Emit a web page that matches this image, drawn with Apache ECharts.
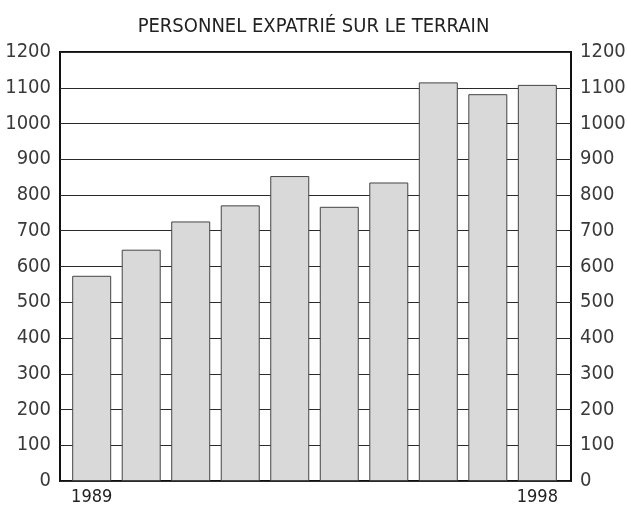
<!DOCTYPE html>
<html>
<head>
<meta charset="utf-8">
<script src="https://cdn.jsdelivr.net/npm/echarts@6/dist/echarts.min.js"></script>
<style>
  html, body { margin: 0; padding: 0; background: #fff; }
  #chart { width: 627px; height: 512px; }
</style>
</head>
<body>
<div id="chart"></div>
<script>
// données
const years = [1989, 1990, 1991, 1992, 1993, 1994, 1995, 1996, 1997, 1998]
const staff = [574, 647, 726, 771, 853, 767, 835, 1115, 1082, 1108]
const yearLabels = [1989, 1998]
const titleText = 'PERSONNEL EXPATRIÉ SUR LE TERRAIN'

const font = "'Liberation Sans Narrow', 'DejaVu Sans Condensed', 'Liberation Sans', sans-serif"
const ink = '#222'

const myChart = echarts.init(document.getElementById('chart'))

const valueAxis = (pos) => ({
  type: 'value',
  position: pos,
  min: 0,
  max: 1200,
  interval: 100,
  axisLine: { show: false },
  axisTick: { show: false },
  splitLine: pos === 'left' ? { show: true, lineStyle: { color: '#2a2a2a', width: 1 } } : { show: false },
  axisLabel: {
    color: '#3a3a3a', fontFamily: font, fontSize: 20, margin: 9,
    formatter: (v) => String(v)
  }
})

myChart.setOption({
  backgroundColor: '#fff',
  animation: false,
  title: {
    text: titleText,
    left: 'center',
    top: 12,
    textStyle: { fontFamily: font, fontSize: 20, fontWeight: 'normal', color: ink }
  },
  grid: {
    left: 60, right: 56, top: 52, bottom: 31,
    outerBoundsMode: 'none',
    containLabel: false,
    show: true,
    borderColor: '#111',
    borderWidth: 2,
    backgroundColor: 'transparent'
  },
  xAxis: {
    type: 'value',
    min: 1988.36,
    max: 1998.68,
    axisLine: { show: false },
    axisTick: { show: false },
    splitLine: { show: false },
    axisLabel: {
      customValues: yearLabels,
      color: ink, fontFamily: font, fontSize: 18, margin: 7,
      formatter: (v) => String(v)
    }
  },
  yAxis: [valueAxis('left'), valueAxis('right')],
  series: [{
    type: 'bar',
    barWidth: 39,
    data: years.map((y, i) => [y, staff[i]]),
    itemStyle: { color: '#d9d9d9', borderColor: '#444', borderWidth: 1 },
    z: 3
  }]
})
</script>
</body>
</html>
